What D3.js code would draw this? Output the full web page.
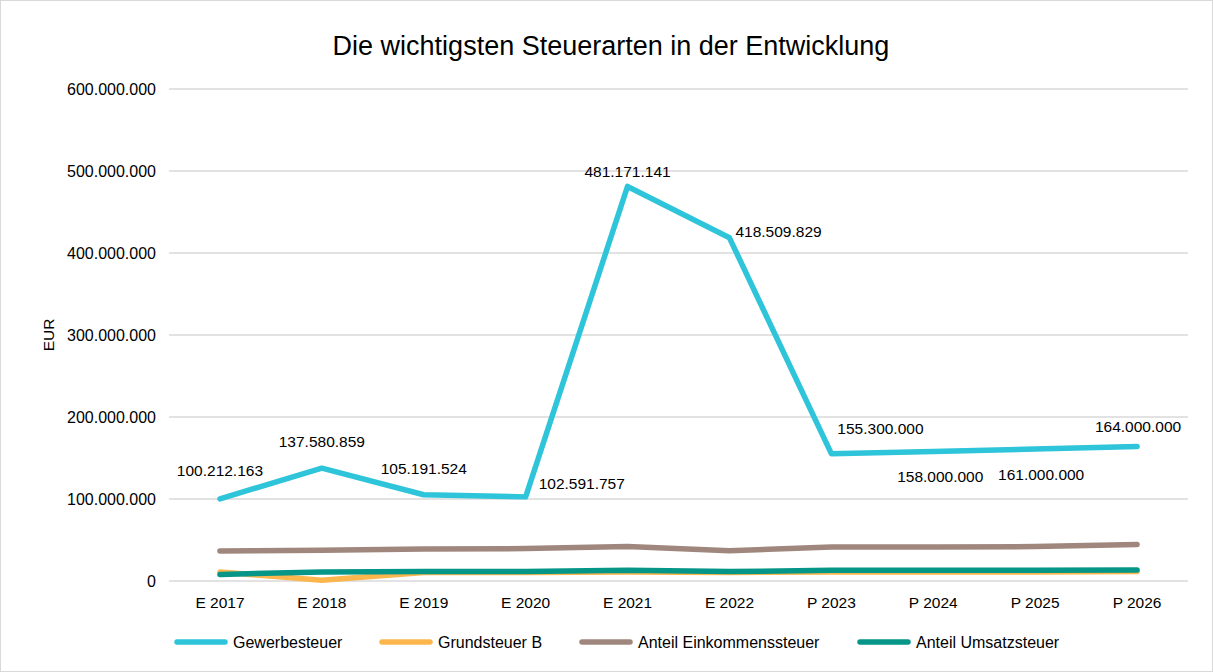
<!DOCTYPE html>
<html>
<head>
<meta charset="utf-8">
<script src="https://cdn.jsdelivr.net/npm/d3@7"></script>
<style>
  body { margin: 0; background: #fff; }
  text { font-family: "Liberation Sans", Arial, sans-serif; fill: #000; }
</style>
</head>
<body>
<div id="chart"></div>
<script>
const categories = ['E 2017', 'E 2018', 'E 2019', 'E 2020', 'E 2021', 'E 2022', 'P 2023', 'P 2024', 'P 2025', 'P 2026'];
const gewerbesteuer = [100212163, 137580859, 105191524, 102591757, 481171141, 418509829, 155300000, 158000000, 161000000, 164000000];
const grundsteuerB = [11000000, 1000000, 10500000, 10500000, 11000000, 10500000, 11000000, 11000000, 11000000, 11500000];
const einkommensteuer = [36500000, 37500000, 39000000, 39500000, 42000000, 37000000, 41500000, 41500000, 42000000, 44500000];
const umsatzsteuer = [8000000, 11000000, 11500000, 11500000, 13000000, 11500000, 13000000, 13000000, 13000000, 13500000];
const yTicks = [0, 100000000, 200000000, 300000000, 400000000, 500000000, 600000000];
// label offsets (dx, dy, anchor) for the Gewerbesteuer values
const labelOffsets = [
	[0, -23, 'middle'], [0, -21, 'middle'], [0, -21, 'middle'], [13, -8, 'start'], [0, -9, 'middle'],
	[6, -1, 'start'], [6, -20, 'start'], [7, 31, 'middle'], [6, 31, 'middle'], [1, -15, 'middle']
];

const series = [
	{ name: 'Gewerbesteuer', values: gewerbesteuer, color: '#2ec4d9' },
	{ name: 'Grundsteuer B', values: grundsteuerB, color: '#fbb64e' },
	{ name: 'Anteil Einkommenssteuer', values: einkommensteuer, color: '#a0877d' },
	{ name: 'Anteil Umsatzsteuer', values: umsatzsteuer, color: '#069688' }
];

const width = 1213, height = 672;
const margin = { top: 89, right: 25, bottom: 91, left: 169 };

const fmt = v => d3.format(',')(v).replace(/,/g, '.');

const svg = d3.select('#chart').append('svg')
	.attr('width', width)
	.attr('height', height);

svg.append('rect')
	.attr('x', 0.5).attr('y', 0.5)
	.attr('width', width - 1).attr('height', height - 1)
	.attr('fill', '#fff').attr('stroke', '#d9d9d9');

svg.append('text')
	.attr('x', 611)
	.attr('y', 55)
	.attr('text-anchor', 'middle')
	.style('font-size', '27px')
	.text('Die wichtigsten Steuerarten in der Entwicklung');

const x = d3.scaleBand()
	.domain(categories)
	.range([margin.left, width - margin.right]);

const y = d3.scaleLinear()
	.domain([0, 600000000])
	.range([height - margin.bottom, margin.top]);

const cx = i => x(categories[i]) + x.bandwidth() / 2;

// gridlines
svg.append('g')
	.selectAll('line')
	.data(yTicks)
	.enter()
	.append('line')
	.attr('x1', margin.left)
	.attr('x2', width - margin.right)
	.attr('y1', d => y(d))
	.attr('y2', d => y(d))
	.attr('stroke', '#d9d9d9')
	.attr('stroke-width', 1.3);

const yAxis = svg.append('g')
	.attr('transform', 'translate(' + (margin.left - 10) + ',0)')
	.call(d3.axisLeft(y).tickValues(yTicks).tickSize(0).tickFormat(fmt));
yAxis.select('.domain').remove();
yAxis.selectAll('text')
	.style('font-size', '16px')
	.attr('fill', '#000')
	.attr('font-family', '"Liberation Sans", Arial, sans-serif');

const xAxis = svg.append('g')
	.attr('transform', 'translate(0,' + (height - margin.bottom) + ')')
	.call(d3.axisBottom(x).tickSize(0).tickPadding(16));
xAxis.select('.domain').remove();
xAxis.selectAll('text')
	.style('font-size', '15.5px')
	.attr('fill', '#000')
	.attr('font-family', '"Liberation Sans", Arial, sans-serif');

svg.append('text')
	.attr('transform', 'translate(54,' + (y(300000000)) + ') rotate(-90)')
	.attr('text-anchor', 'middle')
	.style('font-size', '15.5px')
	.text('EUR');

const line = d3.line()
	.x((d, i) => cx(i))
	.y(d => y(d));

// draw bottom-most first so Gewerbesteuer sits on top
[series[2], series[1], series[3], series[0]].forEach(s => {
	svg.append('path')
		.datum(s.values)
		.attr('d', line)
		.attr('fill', 'none')
		.attr('stroke', s.color)
		.attr('stroke-width', 5.5)
		.attr('stroke-linecap', 'round')
		.attr('stroke-linejoin', 'round');
});

// data labels
svg.append('g')
	.selectAll('text')
	.data(gewerbesteuer)
	.enter()
	.append('text')
	.style('font-size', '15.5px')
	.attr('text-anchor', (d, i) => labelOffsets[i][2])
	.attr('x', (d, i) => cx(i) + labelOffsets[i][0])
	.attr('y', (d, i) => y(d) + labelOffsets[i][1])
	.text(d => fmt(d));

// legend
const legendX = [174, 379, 579, 857];
const legend = svg.append('g')
	.selectAll('g')
	.data(series)
	.enter()
	.append('g')
	.attr('transform', (d, i) => 'translate(' + legendX[i] + ',642)');
legend.append('line')
	.attr('x1', 3).attr('x2', 51)
	.attr('stroke', d => d.color)
	.attr('stroke-width', 5.5)
	.attr('stroke-linecap', 'round');
legend.append('text')
	.attr('x', 59)
	.attr('dy', '0.35em')
	.style('font-size', '16px')
	.text(d => d.name);
</script>
</body>
</html>
